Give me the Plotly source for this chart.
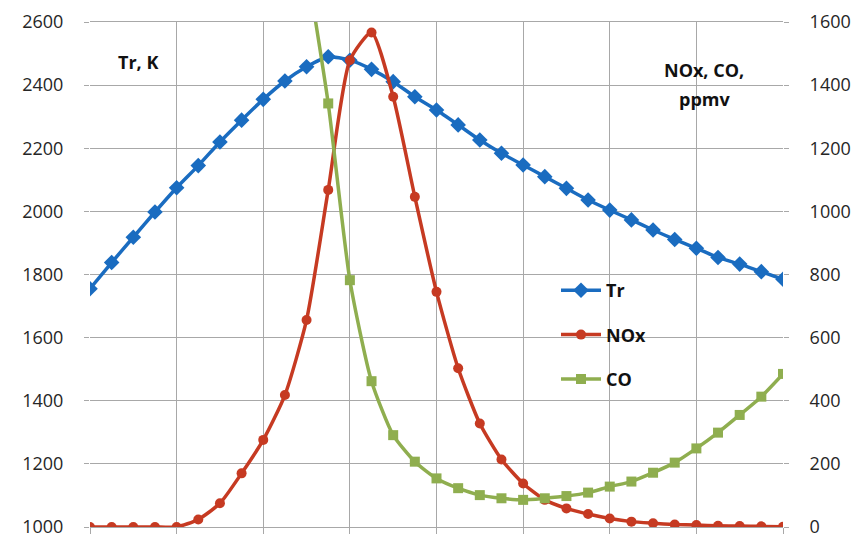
import plotly.graph_objects as go

idx = list(range(33))
tr = [1755, 1838, 1918, 1998, 2075, 2145, 2220, 2289, 2355, 2413, 2458, 2490, 2479,
      2450, 2411, 2363, 2321, 2274, 2226, 2184, 2147, 2110, 2073, 2036, 2004, 1973,
      1941, 1911, 1883, 1854, 1833, 1809, 1785]
nox = [0, 0, 0, 0, 0, 24, 75, 170, 276, 418, 656, 1068, 1479, 1567, 1363, 1046, 745,
       503, 328, 214, 138, 86, 59, 41, 27, 17, 12, 8, 6, 4, 3, 2, 1]
co = [None, None, None, None, None, None, None, None, None, None, 1780, 1342, 782,
      462, 291, 207, 154, 123, 101, 91, 86, 91, 98, 109, 128, 144, 172, 204, 249,
      299, 355, 413, 485]
left_ticks = [1000, 1200, 1400, 1600, 1800, 2000, 2200, 2400, 2600]
right_ticks = [0, 200, 400, 600, 800, 1000, 1200, 1400, 1600]

BLUE = "#1a6cc0"
RED = "#c63a22"
GREEN = "#8fae4f"
GRID = "#a8a8a8"
FONT = "Open Sans"

# plot area in pixels
L, R, T, B = 90, 783, 22, 527
PW, PH = R - L, B - T


def px(x):
    return (x - L) / PW


def py(y):
    return (B - y) / PH


fig = go.Figure()
fig.add_trace(go.Scatter(x=idx, y=tr, name="Tr", mode="lines+markers",
                         line=dict(color=BLUE, width=3.5, shape="spline", smoothing=0.6),
                         marker=dict(symbol="diamond", size=12, color=BLUE),
                         legendgroup="a"))
fig.add_trace(go.Scatter(x=idx, y=nox, name="NOx", mode="lines+markers", yaxis="y2",
                         line=dict(color=RED, width=3.5, shape="spline", smoothing=0.6),
                         marker=dict(symbol="circle", size=10, color=RED),
                         legendgroup="b"))
fig.add_trace(go.Scatter(x=idx, y=co, name="CO", mode="lines+markers", yaxis="y2",
                         line=dict(color=GREEN, width=3.5, shape="spline", smoothing=0.6),
                         marker=dict(symbol="square", size=10, color=GREEN),
                         legendgroup="c"))

fig.update_layout(
    width=865, height=543,
    margin=dict(l=L, r=865 - R, t=T, b=543 - B),
    paper_bgcolor="white", plot_bgcolor="white",
    font=dict(family=FONT, size=16, color="#262626"),
    xaxis=dict(range=[0, 32], tickmode="linear", tick0=0, dtick=4,
               showticklabels=False, showgrid=True, gridcolor=GRID, gridwidth=1,
               ticks="outside", ticklen=6, tickcolor=GRID, zeroline=False,
               showline=True, linecolor=GRID, mirror=True, automargin=False),
    yaxis=dict(range=[1000, 2600], tickvals=left_ticks, showgrid=True,
               gridcolor=GRID, gridwidth=1, ticks="outside", ticklen=5,
               tickcolor=GRID, zeroline=False, ticklabelstandoff=17,
               tickfont=dict(size=18, color="#262626"), automargin=False),
    yaxis2=dict(range=[0, 1600], tickvals=right_ticks, overlaying="y", side="right",
                showgrid=False, ticks="outside", ticklen=5, tickcolor=GRID,
                zeroline=False, ticklabelstandoff=17,
                tickfont=dict(size=18, color="#262626"), automargin=False),
    legend=dict(x=px(556), y=py(272), xanchor="left", yanchor="top",
                bgcolor="rgba(0,0,0,0)", font=dict(size=18, color="#111", weight="bold"),
                traceorder="grouped", tracegroupgap=18, itemwidth=40),
    showlegend=True,
)

# white panels behind the legend and the right-axis title (hide gridlines)
fig.add_shape(type="rect", xref="paper", yref="paper", layer="below",
              x0=px(530), x1=px(695), y0=py(405), y1=py(270),
              fillcolor="white", line=dict(width=0))
fig.add_shape(type="rect", xref="paper", yref="paper", layer="below",
              x0=px(642), x1=px(767), y0=py(117), y1=py(33),
              fillcolor="white", line=dict(width=0))

fig.add_annotation(text="<b>Tr, K</b>", xref="paper", yref="paper",
                   x=px(138), y=py(62), xanchor="center", yanchor="middle",
                   showarrow=False, font=dict(size=18, color="#111"))
fig.add_annotation(text="<b>NOx, CO,</b>", xref="paper", yref="paper",
                   x=px(704), y=py(70), xanchor="center", yanchor="middle",
                   showarrow=False, font=dict(size=18, color="#111"))
fig.add_annotation(text="<b>ppmv</b>", xref="paper", yref="paper",
                   x=px(704), y=py(99), xanchor="center", yanchor="middle",
                   showarrow=False, font=dict(size=18, color="#111"))

fig.write_html("out.html")
